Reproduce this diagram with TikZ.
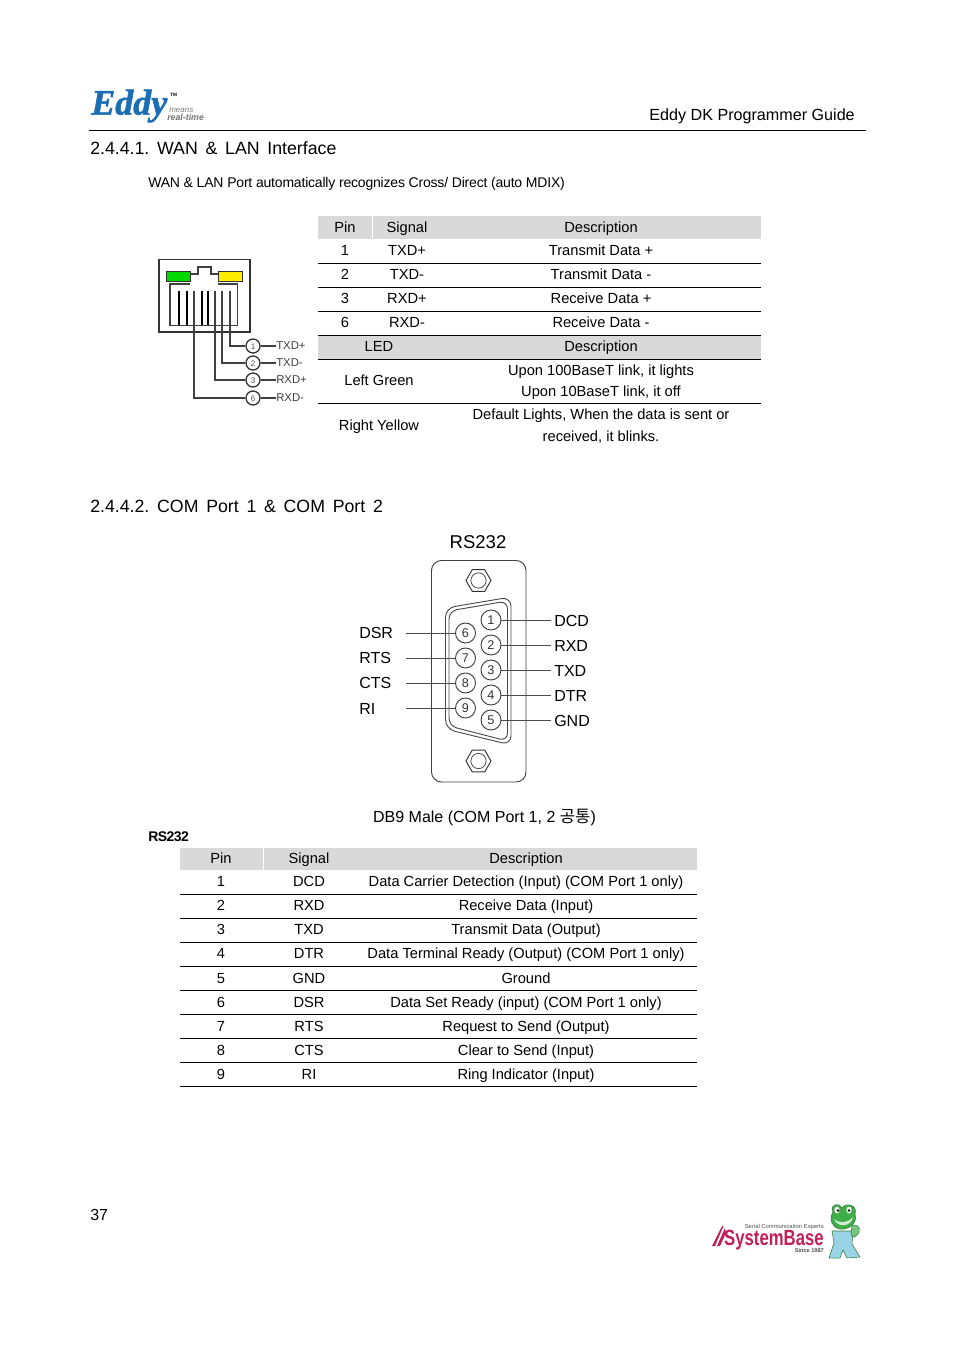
\documentclass[tikz,border=0pt]{standalone}
\usepackage{fontspec}
\setmainfont{Liberation Sans}
\newfontfamily\cjkfont{Noto Sans CJK KR}
\newfontfamily\logofont{Liberation Serif}
\usetikzlibrary{shapes.geometric}
\definecolor{headgray}{HTML}{D9D9D9}
\definecolor{eddyblue}{HTML}{1B6DB4}
\definecolor{sysred}{HTML}{C2205A}
\definecolor{frog}{HTML}{3FAE49}
\definecolor{overall}{HTML}{9AD3E6}
\newcommand{\headgap}{\hspace{5.8pt}}
\begin{document}
\begin{tikzpicture}[
		x=0.75pt, y=-0.75pt,
		every node/.style={inner sep=0pt, font=\fontsize{11}{13}\selectfont, text height=9.5pt, text depth=2pt},
		pin/.style={circle, draw=black!75, line width=0.7pt, minimum size=15pt, font=\fontsize{9.5}{11}\selectfont, text height=6.5pt, text depth=0pt, text=black!80},
		smallpin/.style={circle, draw=black!80, line width=1pt, minimum size=10.5pt, font=\fontsize{6}{7}\selectfont, text height=4.5pt, text depth=0pt, text=black!70},
		heading/.style={anchor=west, font=\fontsize{13.3}{16}\selectfont, text height=10pt, text depth=3pt},
		portlabel/.style={anchor=west, font=\fontsize{12}{14}\selectfont, text height=11pt, text depth=2pt},
		lanlabel/.style={anchor=west, font=\fontsize{8.5}{10}\selectfont, text height=6pt, text depth=1pt, text=black!75},
		wire/.style={draw=black!70, line width=0.75pt},
		lanwire/.style={draw=black!75, line width=1pt},
		contact/.style={draw=black, line width=1.2pt},
		rule/.style={line width=0.75pt},
		screw/.style={regular polygon, regular polygon sides=6, draw=black!80, line width=0.7pt, minimum size=18pt}
	]
  \useasboundingbox (0,0) rectangle (954,1350);

  % page header
  \node (eddy) [anchor=west, font=\logofont\bfseries\itshape\fontsize{27}{27}\selectfont\addfontfeature{FakeBold=1.5}, text=eddyblue, text height=18pt, text depth=5pt] at (91,106) {Eddy};
  \node (eddy_tm) [anchor=west, font=\bfseries\fontsize{3.5}{4}\selectfont, text height=3pt, text depth=0pt] at (170,94) {TM};
  \node (eddy_means) [anchor=west, font=\itshape\fontsize{6}{7}\selectfont, text=black!50, text height=4pt, text depth=1pt] at (169,110) {means};
  \node (eddy_time) [anchor=west, font=\bfseries\itshape\fontsize{6.6}{7}\selectfont, text=black!55, text height=4pt, text depth=1pt] at (167,118.5) {real-time};
  \node (guide) [anchor=east, font=\fontsize{12.1}{14}\selectfont] at (855,115.5) {Eddy DK Programmer Guide};
  \draw [rule] (89,130.5) -- (866,130.5);

  % WAN and LAN
  \node (title_lan) [heading] at (90,149.5) {2.4.4.1.\headgap WAN\headgap \&\headgap LAN\headgap Interface};
  \node (note_lan) [anchor=west, font=\fontsize{10.5}{12}\selectfont\addfontfeature{LetterSpace=-1.4}] at (148,182) {WAN \& LAN Port automatically recognizes Cross/ Direct (auto MDIX)};

  % rj45 socket
  \draw [draw=black!80, line width=0.8pt] (159,259.5) rectangle (250,332);
  \draw [draw=black!80, fill=green!85!black, line width=0.7pt] (166,271) rectangle (190,281);
  \draw [draw=black!80, fill=yellow!95!orange, line width=0.7pt] (218,271) rectangle (242,281);
  \draw [lanwire] (190,274) -- (198,274) -- (198,267) -- (211,267) -- (211,274) -- (218,274);
  \draw [lanwire] (190,284) -- (170,284) -- (170,325.5) -- (237.5,325.5) -- (237.5,284) -- (218,284);
  \coordinate (contact_a) at (179,291);
  \coordinate (contact_b) at (187,291);
  \coordinate (contact_c) at (194,291);
  \coordinate (contact_d) at (202,291);
  \coordinate (contact_e) at (208,291);
  \coordinate (contact_f) at (215,291);
  \coordinate (contact_g) at (222,291);
  \coordinate (contact_h) at (230,291);
  \node (pin_a) [smallpin] at (253,346) {1};
  \node (pin_b) [smallpin] at (253,363) {2};
  \node (pin_c) [smallpin] at (253,380) {3};
  \node (pin_d) [smallpin] at (253,398) {6};
  \node (txd_p) [lanlabel] at (276,346) {TXD+};
  \node (txd_m) [lanlabel] at (276,363) {TXD-};
  \node (rxd_p) [lanlabel] at (276,380) {RXD+};
  \node (rxd_m) [lanlabel] at (276,398) {RXD-};
  \draw [contact] (contact_a) -- (contact_a |- 0,325);
  \draw [contact] (contact_b) -- (contact_b |- 0,325);
  \draw [contact] (contact_c) -- (contact_c |- 0,325);
  \draw [contact] (contact_d) -- (contact_d |- 0,325);
  \draw [contact] (contact_e) -- (contact_e |- 0,325);
  \draw [contact] (contact_f) -- (contact_f |- 0,325);
  \draw [contact] (contact_g) -- (contact_g |- 0,325);
  \draw [contact] (contact_h) -- (contact_h |- 0,325);
  \draw [lanwire] (contact_h) |- (pin_a);
  \draw [lanwire] (contact_g) |- (pin_b);
  \draw [lanwire] (contact_f) |- (pin_c);
  \draw [lanwire] (contact_c) |- (pin_d);
  \draw [lanwire] (pin_a) -- (txd_p);
  \draw [lanwire] (pin_b) -- (txd_m);
  \draw [lanwire] (pin_c) -- (rxd_p);
  \draw [lanwire] (pin_d) -- (rxd_m);

  % table of the lan port
  \fill [headgray] (318,216) rectangle (761,239);
  \fill [headgray] (318,336) rectangle (761,359);
  \draw [white, line width=0.75pt] (372.5,216) -- (372.5,239);
  \draw [rule] (318,263.5) -- (761,263.5);
  \draw [rule] (318,287.5) -- (761,287.5);
  \draw [rule] (318,311.5) -- (761,311.5);
  \draw [rule] (318,335.5) -- (761,335.5);
  \draw [rule] (318,359.5) -- (761,359.5);
  \draw [rule] (318,403.5) -- (761,403.5);
  \node (lan_pin) at (345,227) {Pin};
  \node (lan_sig) at (407,227) {Signal};
  \node (lan_desc) at (601,227) {Description};
  \node (lan_pin_a) at (345,250) {1};
  \node (lan_sig_a) at (407,250) {TXD+};
  \node (lan_desc_a) at (601,250) {Transmit Data +};
  \node (lan_pin_b) at (345,274) {2};
  \node (lan_sig_b) at (407,274) {TXD-};
  \node (lan_desc_b) at (601,274) {Transmit Data -};
  \node (lan_pin_c) at (345,298) {3};
  \node (lan_sig_c) at (407,298) {RXD+};
  \node (lan_desc_c) at (601,298) {Receive Data +};
  \node (lan_pin_d) at (345,322) {6};
  \node (lan_sig_d) at (407,322) {RXD-};
  \node (lan_desc_d) at (601,322) {Receive Data -};
  \node (led) at (379,346) {LED};
  \node (led_desc) at (601,346) {Description};
  \node (led_green) at (379,380) {Left Green};
  \node (green_a) at (601,370) {Upon 100BaseT link, it lights};
  \node (green_b) at (601,391) {Upon 10BaseT link, it off};
  \node (led_yellow) at (379,425) {Right Yellow};
  \node (yellow_a) at (601,414) {Default Lights, When the data is sent or};
  \node (yellow_b) at (601,436) {received, it blinks.};

  % com ports
  \node (title_com) [heading] at (90,507.5) {2.4.4.2.\headgap COM\headgap Port\headgap 1\headgap \&\headgap COM\headgap Port\headgap 2};
  \node (rs232) [font=\fontsize{13.9}{16}\selectfont, text height=11pt, text depth=2pt] at (478,542.5) {RS232};

  % db9 plate
  \draw [draw=black!75, line width=0.7pt, rounded corners=7.5pt] (431.5,560.5) rectangle (526,782);
  \node (screw_top) [screw] at (478.5,580.5) {};
  \node (screw_hole_top) [circle, draw=black!70, line width=0.6pt, minimum size=9pt] at (478.5,580.5) {};
  \node (screw_bot) [screw] at (478.5,761) {};
  \node (screw_hole_bot) [circle, draw=black!70, line width=0.6pt, minimum size=9pt] at (478.5,761) {};
  \draw [draw=black!70, line width=0.7pt, rounded corners=7pt] (445.5,608) -- (511,597) -- (511,745) -- (445.5,729) -- cycle;
  \draw [draw=black!70, line width=0.7pt, rounded corners=6pt] (449,611) -- (507.5,601) -- (507.5,741) -- (449,726) -- cycle;

  \node (pin_1) [pin] at (491,620) {1};
  \node (pin_2) [pin] at (491,645) {2};
  \node (pin_3) [pin] at (491,670) {3};
  \node (pin_4) [pin] at (491,695) {4};
  \node (pin_5) [pin] at (491,720) {5};
  \node (pin_6) [pin] at (465.5,633) {6};
  \node (pin_7) [pin] at (465.5,658) {7};
  \node (pin_8) [pin] at (465.5,683) {8};
  \node (pin_9) [pin] at (465.5,708) {9};

  \node (dcd) [portlabel] at (554,620) {DCD};
  \node (rxd) [portlabel] at (554,645) {RXD};
  \node (txd) [portlabel] at (554,670) {TXD};
  \node (dtr) [portlabel] at (554,695) {DTR};
  \node (gnd) [portlabel] at (554,720) {GND};
  \node (dsr) [portlabel] at (359,632) {DSR};
  \node (rts) [portlabel] at (359,657) {RTS};
  \node (cts) [portlabel] at (359,682) {CTS};
  \node (ri) [portlabel] at (359,708) {RI};

  \coordinate (dcd_end) at (551,620);
  \coordinate (rxd_end) at (551,645);
  \coordinate (txd_end) at (551,670);
  \coordinate (dtr_end) at (551,695);
  \coordinate (gnd_end) at (551,720);
  \coordinate (dsr_end) at (406,633);
  \coordinate (rts_end) at (406,658);
  \coordinate (cts_end) at (406,683);
  \coordinate (ri_end) at (406,708);
  \draw [wire] (pin_1) -- (dcd_end);
  \draw [wire] (pin_2) -- (rxd_end);
  \draw [wire] (pin_3) -- (txd_end);
  \draw [wire] (pin_4) -- (dtr_end);
  \draw [wire] (pin_5) -- (gnd_end);
  \draw [wire] (pin_6) -- (dsr_end);
  \draw [wire] (pin_7) -- (rts_end);
  \draw [wire] (pin_8) -- (cts_end);
  \draw [wire] (pin_9) -- (ri_end);

  \node (db9_caption) [font=\fontsize{12}{14}\selectfont] at (484.5,817) {DB9 Male (COM Port 1, 2 {\cjkfont\fontsize{12.5}{14}\selectfont 공통})};
  \node (rs232_small) [anchor=west, font=\bfseries\fontsize{10.5}{12}\selectfont\addfontfeature{LetterSpace=-4}] at (148,836) {RS232};

  % table of the com ports
  \fill [headgray] (180,848) rectangle (697,870);
  \draw [white, line width=0.75pt] (263.5,848) -- (263.5,870);
  \draw [rule] (180,894.5) -- (697,894.5);
  \draw [rule] (180,918.5) -- (697,918.5);
  \draw [rule] (180,942.5) -- (697,942.5);
  \draw [rule] (180,966.5) -- (697,966.5);
  \draw [rule] (180,990.5) -- (697,990.5);
  \draw [rule] (180,1014.5) -- (697,1014.5);
  \draw [rule] (180,1038.5) -- (697,1038.5);
  \draw [rule] (180,1062.5) -- (697,1062.5);
  \draw [rule] (180,1086.5) -- (697,1086.5);
  \node (com_pin) at (221,858) {Pin};
  \node (com_sig) at (309,858) {Signal};
  \node (com_desc) at (526,858) {Description};
  \node (com_pin_1) at (221,881) {1};
  \node (com_sig_1) at (309,881) {DCD};
  \node (com_desc_1) at (526,881) {Data Carrier Detection (Input) (COM Port 1 only)};
  \node (com_pin_2) at (221,905) {2};
  \node (com_sig_2) at (309,905) {RXD};
  \node (com_desc_2) at (526,905) {Receive Data (Input)};
  \node (com_pin_3) at (221,929) {3};
  \node (com_sig_3) at (309,929) {TXD};
  \node (com_desc_3) at (526,929) {Transmit Data (Output)};
  \node (com_pin_4) at (221,953) {4};
  \node (com_sig_4) at (309,953) {DTR};
  \node (com_desc_4) at (526,953) {Data Terminal Ready (Output) (COM Port 1 only)};
  \node (com_pin_5) at (221,978) {5};
  \node (com_sig_5) at (309,978) {GND};
  \node (com_desc_5) at (526,978) {Ground};
  \node (com_pin_6) at (221,1002) {6};
  \node (com_sig_6) at (309,1002) {DSR};
  \node (com_desc_6) at (526,1002) {Data Set Ready (input) (COM Port 1 only)};
  \node (com_pin_7) at (221,1026) {7};
  \node (com_sig_7) at (309,1026) {RTS};
  \node (com_desc_7) at (526,1026) {Request to Send (Output)};
  \node (com_pin_8) at (221,1050) {8};
  \node (com_sig_8) at (309,1050) {CTS};
  \node (com_desc_8) at (526,1050) {Clear to Send (Input)};
  \node (com_pin_9) at (221,1074) {9};
  \node (com_sig_9) at (309,1074) {RI};
  \node (com_desc_9) at (526,1074) {Ring Indicator (Input)};

  % page footer
  \node (page_no) [anchor=west, font=\fontsize{12}{14}\selectfont] at (90,1215.5) {37};
  \fill [sysred] (712,1246) -- (722,1226) -- (723.5,1226) -- (715,1246) -- cycle;
  \fill [sysred] (717,1246) -- (725,1228) -- (726,1233) -- (720,1246) -- cycle;
  \node (sys_name) [anchor=west, font=\bfseries\fontsize{16.5}{18}\selectfont, text=sysred, xscale=0.76, transform shape, text height=12pt, text depth=3pt] at (724,1239) {SystemBase};
  \node (sys_serial) [anchor=east, font=\fontsize{4.4}{5}\selectfont, text=black!70, text height=3pt, text depth=1pt] at (824,1227) {Serial Communication Experts};
  \node (sys_since) [anchor=east, font=\bfseries\fontsize{4.2}{5}\selectfont, text=black!70, text height=3pt, text depth=1pt] at (824,1251) {Since 1987};

  % frog
  \draw [frog!70!black, fill=overall, line width=0.4pt] (832,1231) -- (853,1231) -- (852,1244) -- (860,1257) -- (847,1258) -- (843,1250) -- (840,1258) -- (829,1258) -- (834,1243) -- cycle;
  \draw [frog!70!black, fill=frog!70!white, line width=0.4pt] (852,1226) .. controls (860,1222) and (862,1232) .. (856,1236) .. controls (854,1238) and (851,1236) .. (851,1233) -- cycle;
  \draw [frog!70!black, fill=frog, line width=0.4pt] (833,1212) .. controls (829,1204) and (840,1202) .. (842,1208) .. controls (846,1202) and (858,1205) .. (855,1214) .. controls (858,1224) and (848,1230) .. (840,1229) .. controls (833,1228) and (828,1220) .. (833,1212) -- cycle;
  \fill [white] (837,1210) ellipse (2.6 and 3.4);
  \fill [white] (849,1210) ellipse (2.6 and 3.4);
  \fill [black] (838,1210.5) circle (1.4);
  \fill [black] (849,1210.5) circle (1.4);
  \fill [frog!25!white] (834,1219) .. controls (840,1224) and (848,1223) .. (853,1217) .. controls (852,1226) and (838,1229) .. (834,1219) -- cycle;
\end{tikzpicture}
\end{document}
